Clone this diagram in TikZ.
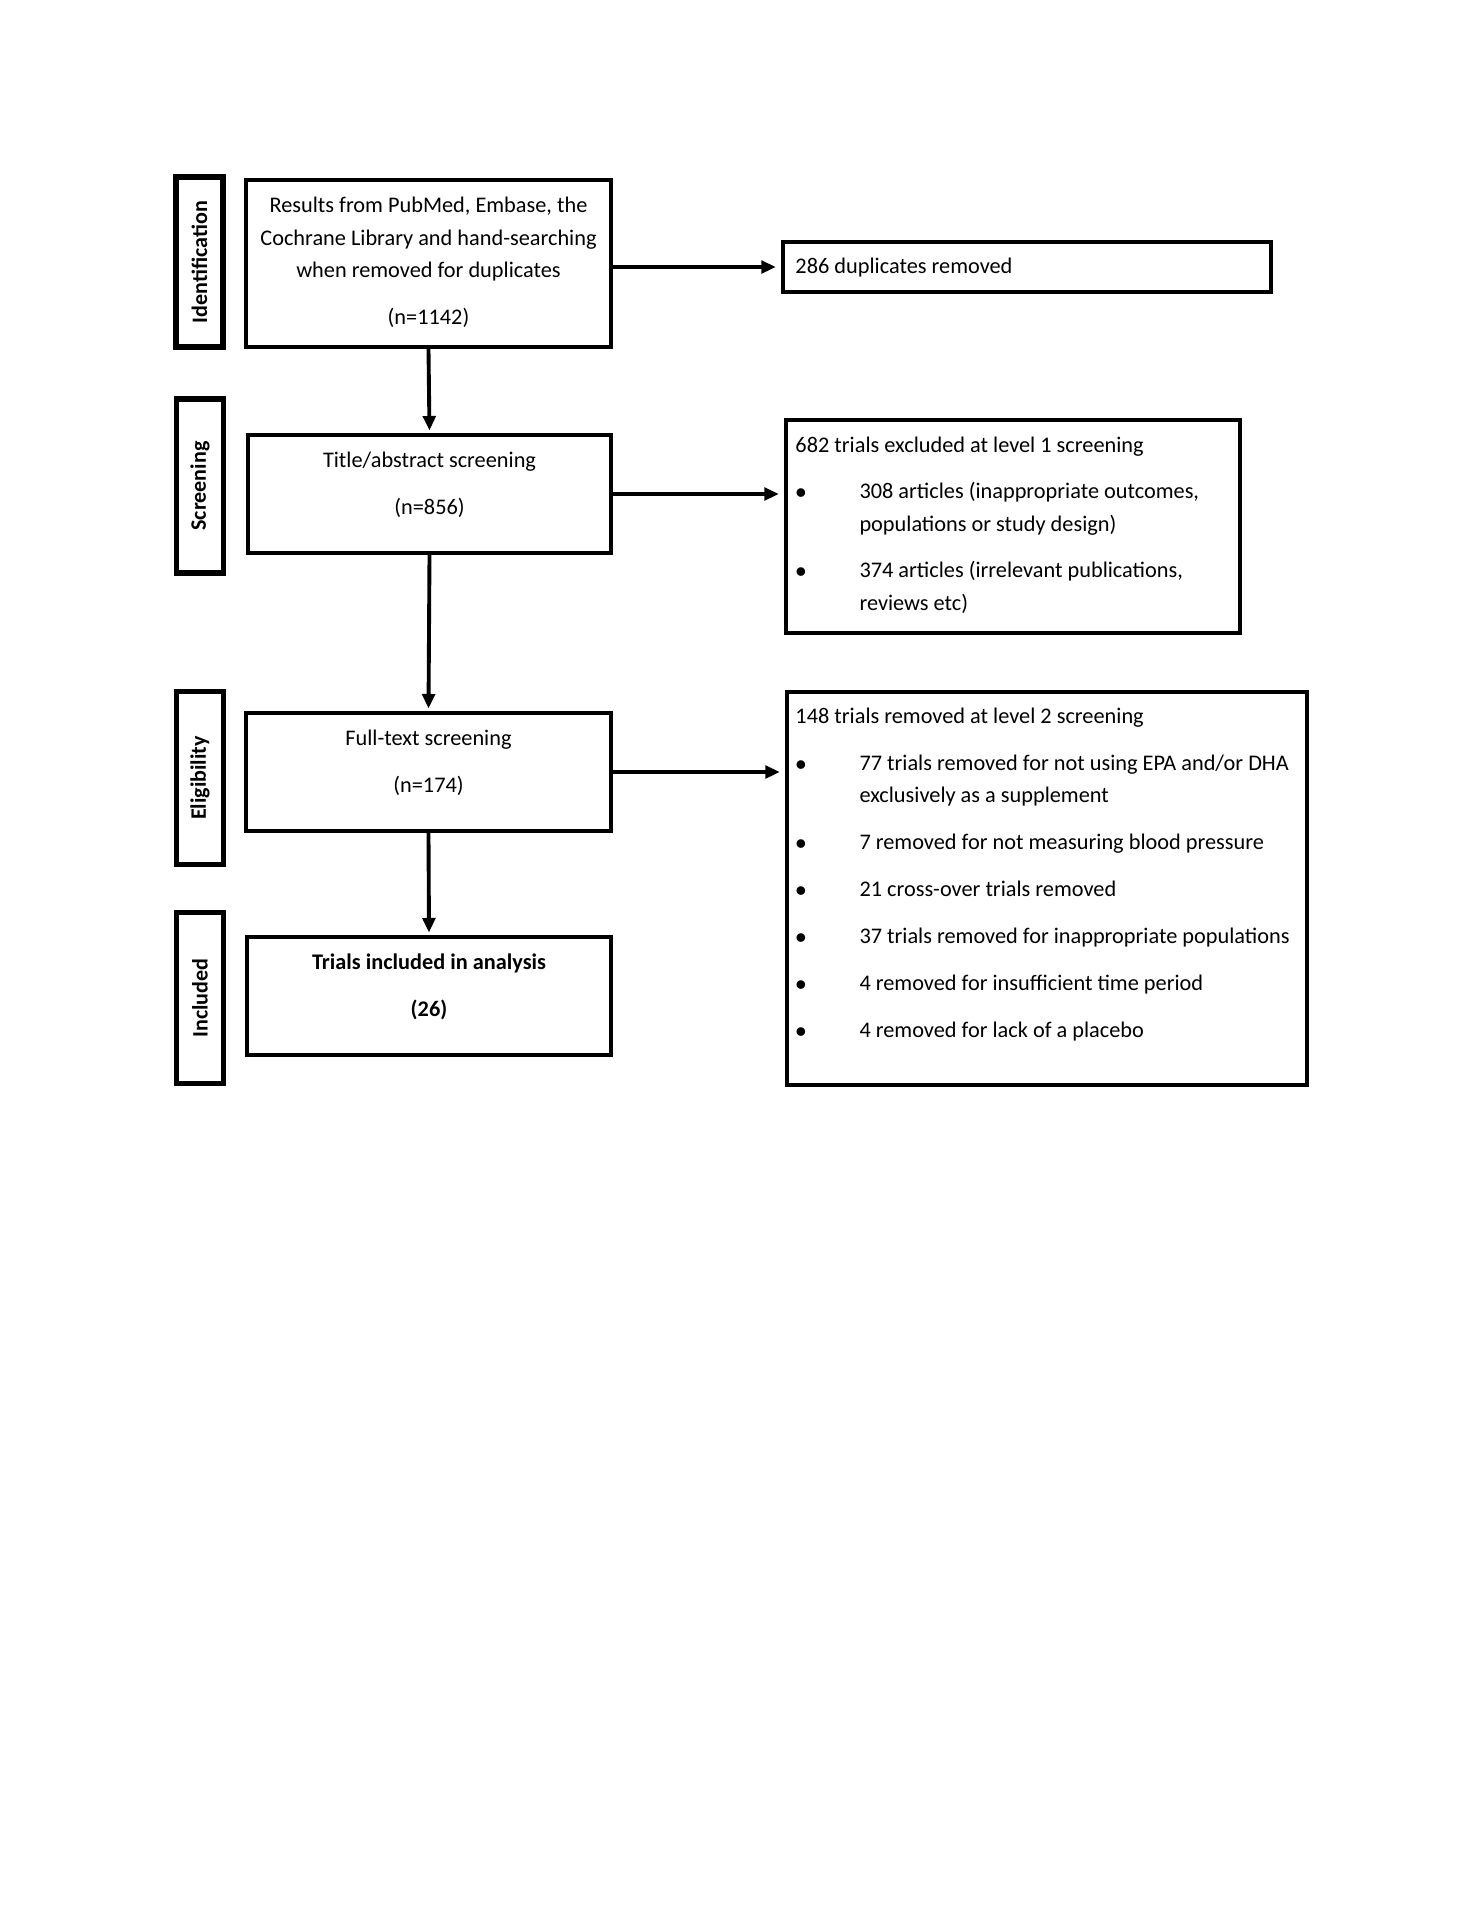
\documentclass[tikz,border=0pt]{standalone}
\usepackage{fontspec}
\setmainfont{Carlito}
\usetikzlibrary{arrows.meta}
\newcommand\bitem{\makebox[26.4bp][l]{$\bullet$}}
\newcommand\bcont{\hspace*{26.4bp}}
\newcommand\topstrut{\rule{0pt}{8bp}}
\begin{document}
\begin{tikzpicture}[x=0.4124bp,y=-0.4124bp,
  box/.style={draw, line width=1.7bp, inner sep=0pt},
  rbox/.style={draw, line width=1.9bp, inner sep=0pt},
  lab/.style={draw, line width=2.1bp, rotate=90, inner sep=0pt,
    minimum height=47*0.4124bp, font=\fontsize{9.1bp}{11bp}\selectfont\bfseries},
  txt/.style={inner sep=0pt, font=\fontsize{9.2bp}{13.35bp}\selectfont},
  arr/.style={line width=1.6bp, -{Triangle[length=6bp,width=5.2bp]}}
]
\fill[white] (0,0) rectangle (1484,1920);
\useasboundingbox (0,0) rectangle (1484,1920);

% stage labels
\node[lab, minimum width=170*0.4124bp] (lid) at (199.5,262) {Identification};
\node[lab, minimum width=174*0.4124bp] (lsc) at (200,486) {Screening};
\node[lab, minimum width=173*0.4124bp] (lel) at (200,778) {Eligibility};
\node[lab, minimum width=171*0.4124bp] (lin) at (200,998) {Included};

% main boxes
\node[box, minimum width=365*0.4124bp, minimum height=167*0.4124bp] (b1) at (428.5,263.5) {};
\node[box, minimum width=363*0.4124bp, minimum height=118*0.4124bp] (b2) at (429.5,494) {};
\node[box, minimum width=365*0.4124bp, minimum height=118*0.4124bp] (b3) at (428.5,772) {};
\node[box, minimum width=364*0.4124bp, minimum height=118*0.4124bp] (b4) at (429,996) {};

% right boxes
\node[rbox, minimum width=488*0.4124bp, minimum height=50*0.4124bp] (r1) at (1027,267) {};
\node[rbox, minimum width=454*0.4124bp, minimum height=213*0.4124bp] (r2) at (1013,526.5) {};
\node[rbox, minimum width=520*0.4124bp, minimum height=393*0.4124bp] (r3) at (1047,888.5) {};

% texts in main boxes
\node[txt, anchor=north, align=center] (t1) at (428.5,193)
  {\topstrut Results from PubMed, Embase, the\\Cochrane Library and hand-searching\\when removed for duplicates\\[5.8bp](n=1142)};
\node[txt, anchor=north, align=center] (t2) at (429.5,448)
  {\topstrut Title/abstract screening\\[5.8bp](n=856)};
\node[txt, anchor=north, align=center] (t3) at (428.5,726)
  {\topstrut Full-text screening\\[5.8bp](n=174)};
\node[txt, anchor=north, align=center, font=\fontsize{9.2bp}{13.35bp}\selectfont\bfseries] (t4) at (429,950)
  {\topstrut Trials included in analysis\\[5.8bp](26)};

% texts in right boxes
\node[txt, anchor=north west, align=left] (tr1) at (795,254)
  {\topstrut 286 duplicates removed};
\node[txt, anchor=north west, align=left] (tr2) at (795,433)
  {\topstrut 682 trials excluded at level 1 screening\\[5.6bp]
   \bitem 308 articles (inappropriate outcomes,\\
   \bcont populations or study design)\\[5.8bp]
   \bitem 374 articles (irrelevant publications,\\
   \bcont reviews etc)};
\node[txt, anchor=north west, align=left] (tr3) at (795,704)
  {\topstrut 148 trials removed at level 2 screening\\[5.7bp]
   \bitem 77 trials removed for not using EPA and/or DHA\\
   \bcont exclusively as a supplement\\[6bp]
   \bitem 7 removed for not measuring blood pressure\\[6bp]
   \bitem 21 cross-over trials removed\\[6.1bp]
   \bitem 37 trials removed for inappropriate populations\\[6bp]
   \bitem 4 removed for insufficient time period\\[6.1bp]
   \bitem 4 removed for lack of a placebo};

% connectors
\draw[arr, shorten >=1bp] (b1.south) -- (b2.north);
\draw[arr, shorten >=1bp] (b2.south) -- (b3.north);
\draw[arr, shorten >=1bp] (b3.south) -- (b4.north);
\draw[arr, shorten >=2bp] (b1.east |- r1.west) -- (r1.west);
\draw[arr, shorten >=2bp] (b2.east) -- (b2.east -| r2.west);
\draw[arr, shorten >=2bp] (b3.east) -- (b3.east -| r3.west);
\end{tikzpicture}
\end{document}
